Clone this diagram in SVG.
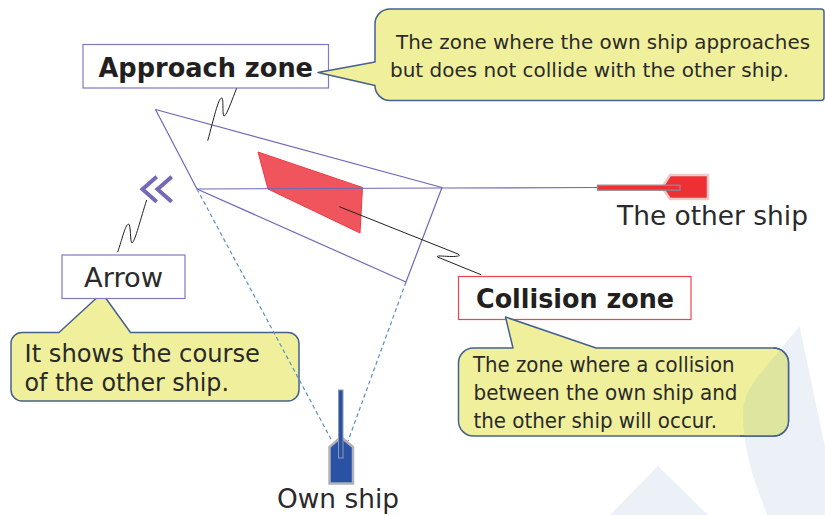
<svg xmlns="http://www.w3.org/2000/svg" xmlns:xlink="http://www.w3.org/1999/xlink" width="825" height="515" viewBox="0 0 825 515">
<style>
text{font-family:"DejaVu Sans","Liberation Sans",sans-serif;fill:#2a2a2a}
.b{font-weight:bold;fill:#231f20}
.callout{fill:#f0f09c;stroke:#45608f;stroke-width:1.5;stroke-linejoin:round}
.label{fill:#fff;stroke:#8277c0;stroke-width:1.2}
.zone{fill:none;stroke:#7068b8;stroke-width:1.2;stroke-linejoin:round}
.lead{fill:none;stroke:#222;stroke-width:1}
.dash{fill:none;stroke:#5b8fc8;stroke-width:1.2;stroke-dasharray:4 3}
.bg{fill:#ecf1f8}
.ov{fill:#dde59f}
</style>
<defs>
<path id="bgA" d="M799.500 326C783 347 757 375 748 392C742 404 742 414 745 440C749 470 760 495 767 515H825V447Z"/>
<clipPath id="cc"><path d="M473.500 348H773.500A15 15 0 0 1 788.500 363V421A15 15 0 0 1 773.500 436H473.500A15 15 0 0 1 458.500 421V363A15 15 0 0 1 473.500 348Z"/></clipPath>
</defs>
<rect width="825" height="515" fill="#fff"/>
<g id="background">
<use xlink:href="#bgA" href="#bgA" class="bg"/>
<path class="bg" d="M658 466L610 515H708Z"/>
</g>
<g id="callout-arrow">
<path class="callout" d="M22 332.500H59L102 293L130.500 332.500H288A11 11 0 0 1 299 343.500V390A11 11 0 0 1 288 401H22A11 11 0 0 1 11 390V343.500A11 11 0 0 1 22 332.500Z"/>
<text x="24.500" y="361.500" font-size="25.500" textLength="235.500" lengthAdjust="spacingAndGlyphs">It shows the course</text>
<text x="24.500" y="390.500" font-size="25.500" textLength="204.500" lengthAdjust="spacingAndGlyphs">of the other ship.</text>
</g>
<g id="zones">
<path fill="#f0545c" stroke="#ee3a44" stroke-width="1" stroke-linejoin="round" d="M258 152L362.500 187.500L360 233L268 189Z"/>
<path class="zone" d="M155.500 109.500L442 187.500L406 282L197 189Z"/>
</g>
<g id="connectors">
<path class="dash" d="M197 189L332 441M406 282L348 441"/>
<path class="zone" d="M197 189L442 188L597 187.500"/>
<path class="lead" d="M236.700 88C232 100 226 117 224 116C222 115 224 97 221.500 98C218 99 214 118 207.700 140.700"/>
<path class="lead" d="M146.700 200C141 217 135 242 132 243C130 243 131 224 128.500 224C125 225 122 240 117.700 252"/>
<path class="lead" d="M339.300 206.700L458 254C461 255.500 459 256.500 452 256.500C444 256.500 436 255 437.500 257L481 274.700"/>
</g>
<g id="approach-zone">
<rect class="label" x="83" y="44.500" width="245.500" height="43.500"/>
<text class="b" x="98.500" y="77" font-size="26.500" textLength="214.500" lengthAdjust="spacingAndGlyphs">Approach zone</text>
</g>
<g id="callout-approach">
<path class="callout" d="M390 9H821Q824 9 824 12V97.500Q824 100.500 821 100.500H390A15 15 0 0 1 375 85.500L318 72.500L375 62V24A15 15 0 0 1 390 9Z"/>
<text x="396" y="49" font-size="20" textLength="414" lengthAdjust="spacingAndGlyphs">The zone where the own ship approaches</text>
<text x="390" y="77" font-size="20" textLength="399" lengthAdjust="spacingAndGlyphs">but does not collide with the other ship.</text>
</g>
<g id="arrow-symbol">
<path fill="none" stroke="#7468b8" stroke-width="4" d="M156.700 176.700L142.500 189.300L156.700 201.700M171.700 176.700L157.500 189.300L171.700 201.700"/>
</g>
<g id="arrow-label">
<rect class="label" x="62" y="255" width="123" height="43.500"/>
<text x="84" y="286.500" font-size="26.500" textLength="79" lengthAdjust="spacingAndGlyphs">Arrow</text>
</g>
<g id="other-ship">
<path fill="#ee3034" stroke="#eecaca" stroke-width="2.500" d="M662 187.500L670 175H708V199H670Z"/>
<rect x="597.500" y="185.200" width="82.500" height="5" fill="#ee3034" stroke="#8a8a96" stroke-width="1.300"/>
<text x="617" y="225" font-size="27" textLength="191" lengthAdjust="spacingAndGlyphs">The other ship</text>
</g>
<g id="own-ship">
<path fill="#2a52a4" stroke="#b0b0b6" stroke-width="2.500" d="M341 437L353 447V483.500H329.500V447Z"/>
<rect x="338.500" y="390" width="4.500" height="68" fill="#2a52a4" stroke="#8f9ab0" stroke-width="1"/>
<text x="277" y="508" font-size="27" textLength="122" lengthAdjust="spacingAndGlyphs">Own ship</text>
</g>
<g id="collision-zone">
<rect x="458.500" y="276.500" width="232.500" height="43" fill="#fff" stroke="#ee4450" stroke-width="1.200"/>
<text class="b" x="476" y="308" font-size="26.500" textLength="198" lengthAdjust="spacingAndGlyphs">Collision zone</text>
</g>
<g id="callout-collision">
<path class="callout" d="M473.500 348H513L505.500 317L596 348H773.500A15 15 0 0 1 788.500 363V421A15 15 0 0 1 773.500 436H473.500A15 15 0 0 1 458.500 421V363A15 15 0 0 1 473.500 348Z"/>
<use xlink:href="#bgA" href="#bgA" class="ov" clip-path="url(#cc)"/>
<path fill="none" stroke="#45608f" stroke-width="1.500" d="M773.500 348A15 15 0 0 1 788.500 363V421A15 15 0 0 1 773.500 436H740"/>
<text x="473" y="371.500" font-size="21" textLength="261.500" lengthAdjust="spacingAndGlyphs">The zone where a collision</text>
<text x="473.500" y="400" font-size="21" textLength="264" lengthAdjust="spacingAndGlyphs">between the own ship and</text>
<text x="473.500" y="428" font-size="21" textLength="243.500" lengthAdjust="spacingAndGlyphs">the other ship will occur.</text>
</g>
</svg>
